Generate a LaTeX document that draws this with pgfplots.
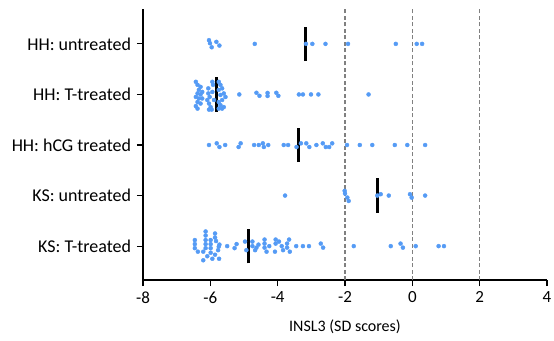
\documentclass[border=0pt]{standalone}
\usepackage{fontspec}
\setmainfont{Carlito}
\usepackage{pgfplots}
\pgfplotsset{compat=1.18}
\definecolor{dotblue}{RGB}{85,155,245}
\begin{document}
\fontsize{17}{20}\selectfont
\begin{tikzpicture}
\useasboundingbox (-143pt,-60pt) rectangle (411pt,280pt);
\begin{axis}[
  at={(0,0)}, anchor=south west,
  scale only axis, width=404pt, height=271pt,
  xmin=-8, xmax=4, ymin=0.33, ymax=5.69,
  axis x line*=bottom, axis y line*=left,
  axis line style={line width=1.2pt},
  xtick={-8,-6,-4,-2,0,2,4}, xticklabels={-8,-6,-4,-2,0,2,4},
  ytick={1,2,3,4,5},
  yticklabels={KS: T-treated, KS: untreated, HH: hCG treated, HH: T-treated, HH: untreated},
  tick align=outside, major tick length=6pt,
  tick style={black, line width=1.2pt},
  xlabel={INSL3 (SD scores)},
  xticklabel style={font=\fontsize{17}{20}\selectfont},
  yticklabel style={font=\fontsize{18}{21}\selectfont},
  label style={font=\fontsize{16}{19}\selectfont},
  xlabel style={yshift=-5pt},
  clip=false,
]
% reference lines
\addplot[gray, line width=1.2pt, dash pattern=on 4pt off 2.5pt] coordinates {(-2,0.33) (-2,5.69)};
\addplot[gray, line width=1.2pt, dash pattern=on 4pt off 2.5pt] coordinates {(0,0.33) (0,5.69)};
\addplot[gray, line width=1.2pt, dash pattern=on 4pt off 2.5pt] coordinates {(2,0.33) (2,5.69)};

% HH: untreated (y=5)
\addplot[only marks, mark=*, mark size=2pt, color=dotblue, mark options={draw=none, fill=dotblue}] coordinates {
(-6.04,5.073) (-6.01,5.013) (-5.96,4.933) (-5.82,5.04) (-5.73,4.967)
(-4.68,5) (-3.16,5) (-2.97,5) (-2.58,5) (-1.91,5) (-0.49,5) (0.13,5) (0.29,5)
};
% HH: T-treated (y=4)
\addplot[only marks, mark=*, mark size=2pt, color=dotblue, mark options={draw=none, fill=dotblue}] coordinates {
(-6.43,4.25) (-6.38,4.19) (-6.29,4.15) (-6.34,4.09) (-6.38,4.02) (-6.29,4.0) (-6.43,3.95)
(-6.34,3.92) (-6.24,3.92) (-6.38,3.85) (-6.29,3.82) (-6.43,3.77) (-6.38,3.72) (-6.24,4.05)
(-6.06,4.12) (-6.06,4.02) (-6.02,3.95) (-6.09,3.89) (-6.04,3.82) (-5.99,3.75) (-6.04,3.70)
(-5.96,3.70) (-5.94,4.25) (-5.92,4.19) (-5.94,4.05) (-5.89,3.89)
(-5.75,4.25) (-5.70,4.19) (-5.65,4.12) (-5.75,4.09) (-5.60,4.02) (-5.70,3.99) (-5.55,3.95)
(-5.65,3.89) (-5.75,3.85) (-5.70,3.79) (-5.60,3.75) (-5.75,3.72) (-5.65,3.72)
(-5.14,4) (-4.63,4.033) (-4.54,3.973) (-4.30,4.03) (-4.30,3.97) (-4.04,4.033) (-3.98,3.973)
(-3.37,4) (-3.25,4) (-3.01,4) (-2.79,4) (-1.30,4)
};
% HH: hCG treated (y=3)
\addplot[only marks, mark=*, mark size=2pt, color=dotblue, mark options={draw=none, fill=dotblue}] coordinates {
(-6.04,3) (-5.81,3.033) (-5.73,2.96) (-5.56,3) (-5.16,2.96) (-5.10,3.033)
(-4.70,3) (-4.56,3) (-4.44,3.033) (-4.41,2.96) (-4.28,3) (-3.82,3) (-3.69,3)
(-3.44,2.96) (-3.31,3.033) (-3.15,3.033) (-3.06,2.96) (-2.85,3) (-2.66,3.033)
(-2.57,2.96) (-2.47,2.96) (-2.38,3.033) (-1.94,3) (-1.56,3) (-1.19,3) (-0.52,3)
(-0.15,3) (0.38,3)
};
% KS: untreated (y=2)
\addplot[only marks, mark=*, mark size=2pt, color=dotblue, mark options={draw=none, fill=dotblue}] coordinates {
(-3.78,2) (-2.01,2.093) (-2.00,2.04) (-1.93,1.96) (-1.89,1.893) (-1.04,2)
(-0.94,2.027) (-0.70,2) (-0.07,2.027) (-0.02,1.96) (0.38,2)
};
% KS: T-treated (y=1)
\addplot[only marks, mark=*, mark size=2pt, color=dotblue, mark options={draw=none, fill=dotblue}] coordinates {
(-6.46,1.12) (-6.46,1.04) (-6.46,0.96) (-6.37,0.89) (-6.21,0.89) (-6.21,0.72)
(-6.14,1.29) (-6.14,1.21) (-6.14,1.12) (-6.14,1.04) (-6.14,0.96) (-6.09,0.80)
(-5.99,1.12) (-5.99,1.04) (-5.99,0.96) (-5.99,0.87) (-5.94,0.75)
(-5.86,1.25) (-5.86,1.17) (-5.83,1.10) (-5.86,0.83) (-5.77,0.92) (-5.75,0.99)
(-5.73,1.03) (-5.74,0.75) (-5.50,1) (-5.28,0.96) (-5.22,1.04)
(-4.97,1.09) (-4.93,0.92) (-4.75,1.09) (-4.75,1) (-4.67,0.92) (-4.63,0.97)
(-4.57,1.03) (-4.39,1.13) (-4.39,1.05) (-4.39,0.97) (-4.33,0.89) (-4.25,1)
(-4.06,1.13) (-4.06,1.05) (-4.08,0.89) (-3.96,1.09) (-3.88,1) (-3.84,0.92)
(-3.72,1.05) (-3.72,0.97) (-3.66,1.13) (-3.64,0.89) (-3.45,1) (-3.25,1)
(-3.07,1) (-2.72,1.05) (-2.65,0.97) (-1.74,1) (-0.64,1) (-0.35,1.05)
(-0.28,0.97) (0.10,1) (0.78,1) (0.94,1)
};
% medians
\addplot[black, line width=3pt] coordinates {(-3.16,4.66) (-3.16,5.34)};
\addplot[black, line width=3pt] coordinates {(-5.82,3.66) (-5.82,4.34)};
\addplot[black, line width=3pt] coordinates {(-3.38,2.66) (-3.38,3.34)};
\addplot[black, line width=3pt] coordinates {(-1.04,1.66) (-1.04,2.34)};
\addplot[black, line width=3pt] coordinates {(-4.87,0.66) (-4.87,1.34)};
\end{axis}
\end{tikzpicture}
\end{document}
